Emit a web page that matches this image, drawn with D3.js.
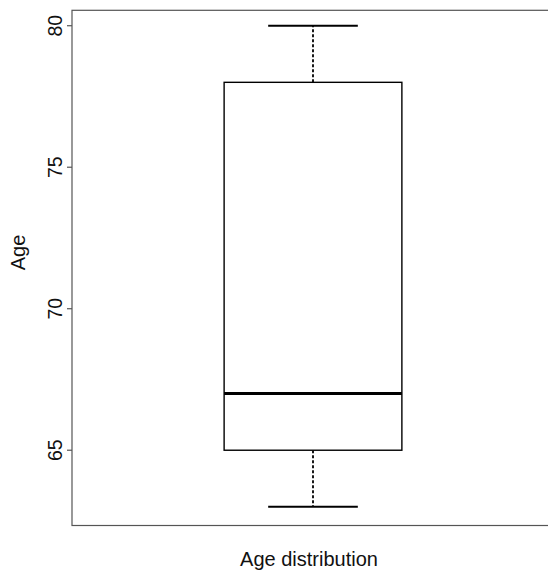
<!DOCTYPE html>
<html>
<head>
<meta charset="utf-8">
<script src="https://cdn.jsdelivr.net/npm/d3@7"></script>
<style>
  html, body { margin: 0; padding: 0; background: #fff; }
  svg { display: block; font-family: "Liberation Sans", Arial, Helvetica, sans-serif; }
</style>
</head>
<body>
<svg id="chart" width="548" height="574"></svg>
<script>
// Five-number summary of the age sample
const groups = ["Age distribution"];
const whiskerLow = [63];
const lowerQuartile = [65];
const medians = [67];
const upperQuartile = [78];
const whiskerHigh = [80];
const yTicks = [65, 70, 75, 80];

const width = 548, height = 574;
const plot = { left: 72, right: 554, top: 10.3, bottom: 525.5 };

const svg = d3.select("#chart");

// y scale: fixed so 65 and 80 land on their tick rows
const y = d3.scaleLinear().domain([62.34, 80.545]).range([plot.bottom, plot.top]);
// single-box x scale, as in a base boxplot (0.5 .. 1.5)
const x = d3.scaleLinear().domain([0.5, 1.5]).range([plot.left, plot.right]);
const boxHalf = 0.1844;
const capHalf = 0.093;

// plot frame
svg.append("rect")
  .attr("x", plot.left).attr("y", plot.top)
  .attr("width", plot.right - plot.left).attr("height", plot.bottom - plot.top)
  .attr("fill", "none").attr("stroke", "#555").attr("stroke-width", 1.2);

// y axis ticks and rotated labels
const yAxis = svg.append("g");
yTicks.forEach(t => {
  yAxis.append("line")
    .attr("x1", plot.left - 5).attr("x2", plot.left)
    .attr("y1", y(t)).attr("y2", y(t))
    .attr("stroke", "#555").attr("stroke-width", 1.2);
  yAxis.append("text")
    .attr("transform", `translate(${plot.left - 10},${y(t)}) rotate(-90)`)
    .attr("text-anchor", "middle")
    .attr("font-size", 19.5)
    .attr("fill", "#111")
    .text(t);
});

// boxes
groups.forEach((g, i) => {
  const cx = i + 1;
  const gg = svg.append("g");
  // whiskers (dashed)
  gg.append("line")
    .attr("x1", x(cx)).attr("x2", x(cx))
    .attr("y1", y(upperQuartile[i])).attr("y2", y(whiskerHigh[i]))
    .attr("stroke", "#000").attr("stroke-width", 1.8).attr("stroke-dasharray", "3,2");
  gg.append("line")
    .attr("x1", x(cx)).attr("x2", x(cx))
    .attr("y1", y(lowerQuartile[i])).attr("y2", y(whiskerLow[i]))
    .attr("stroke", "#000").attr("stroke-width", 1.8).attr("stroke-dasharray", "3,2");
  // whisker caps
  [whiskerHigh[i], whiskerLow[i]].forEach(v => {
    gg.append("line")
      .attr("x1", x(cx - capHalf)).attr("x2", x(cx + capHalf))
      .attr("y1", y(v)).attr("y2", y(v))
      .attr("stroke", "#000").attr("stroke-width", 2);
  });
  // box
  gg.append("rect")
    .attr("x", x(cx - boxHalf)).attr("y", y(upperQuartile[i]))
    .attr("width", x(cx + boxHalf) - x(cx - boxHalf))
    .attr("height", y(lowerQuartile[i]) - y(upperQuartile[i]))
    .attr("fill", "#fff").attr("stroke", "#000").attr("stroke-width", 1.4);
  // median
  gg.append("line")
    .attr("x1", x(cx - boxHalf)).attr("x2", x(cx + boxHalf))
    .attr("y1", y(medians[i])).attr("y2", y(medians[i]))
    .attr("stroke", "#000").attr("stroke-width", 3);
});

// axis titles
svg.append("text")
  .attr("x", 309).attr("y", 566)
  .attr("text-anchor", "middle").attr("font-size", 20).attr("fill", "#111")
  .text(groups[0]);

svg.append("text")
  .attr("transform", "translate(25,252.5) rotate(-90)")
  .attr("text-anchor", "middle").attr("font-size", 20).attr("fill", "#111")
  .text("Age");
</script>
</body>
</html>
